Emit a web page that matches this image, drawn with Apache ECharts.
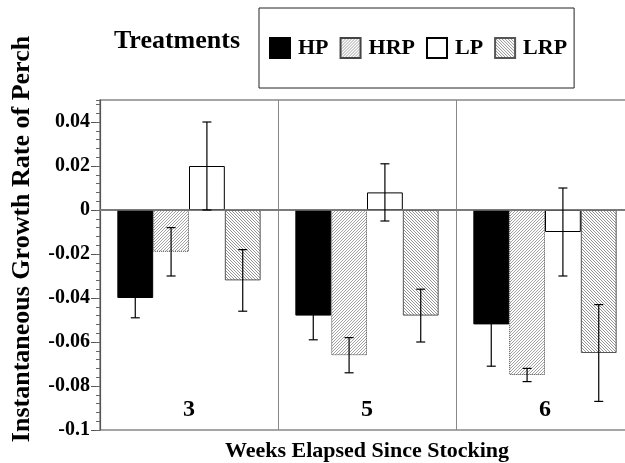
<!DOCTYPE html>
<html>
<head>
<meta charset="utf-8">
<script src="https://cdn.jsdelivr.net/npm/echarts@6/dist/echarts.min.js"></script>
<style>
html,body{margin:0;padding:0;background:#fff;}
#chart{width:625px;height:463px;}
</style>
</head>
<body>
<div id="chart"></div>
<script>
// ---- data ----
var categories = ['3', '5', '6'];
var treatments = ['HP', 'HRP', 'LP', 'LRP'];
var HP = [-0.040, -0.048, -0.052];
var HP_err = [0.009, 0.011, 0.019];
var HRP = [-0.019, -0.066, -0.075];
var HRP_err = [0.011, 0.008, 0.003];
var LP = [0.020, 0.008, -0.010];
var LP_err = [0.020, 0.013, 0.020];
var LRP = [-0.032, -0.048, -0.065];
var LRP_err = [0.014, 0.012, 0.022];
var yTicks = [-0.1, -0.08, -0.06, -0.04, -0.02, 0, 0.02, 0.04];

var FONT = '"Liberation Serif", "Times New Roman", serif';
var GAP = 0.195;

function hatch(dir, color, size, lw) {
  var c = document.createElement('canvas');
  c.width = size; c.height = size;
  var ctx = c.getContext('2d');
  ctx.fillStyle = '#fff';
  ctx.fillRect(0, 0, size, size);
  ctx.strokeStyle = color;
  ctx.lineWidth = lw;
  ctx.beginPath();
  for (var k = -1; k <= 1; k++) {
    if (dir === '/') {
      ctx.moveTo(k * size, size); ctx.lineTo(k * size + size, 0);
    } else {
      ctx.moveTo(k * size, 0); ctx.lineTo(k * size + size, size);
    }
  }
  ctx.stroke();
  return { image: c, repeat: 'repeat' };
}

var styles = [
  { color: '#000', borderColor: '#000', borderWidth: 1 },
  { color: hatch('/', '#8a8a8a', 3, 0.8), borderColor: '#444', borderWidth: 1, borderType: 'dotted' },
  { color: '#fff', borderColor: '#000', borderWidth: 1 },
  { color: hatch('\\', '#888', 3, 0.9), borderColor: '#555', borderWidth: 1 }
];
var values = [HP, HRP, LP, LRP];
var errs = [HP_err, HRP_err, LP_err, LRP_err];

var series = treatments.map(function (name, i) {
  var s = {
    name: name,
    type: 'bar',
    data: values[i],
    barGap: '0%',
    barCategoryGap: (GAP * 100) + '%',
    itemStyle: styles[i],
    emphasis: { disabled: true },
    z: 2
  };
  if (i === 0) {
    s.markLine = {
      silent: true, symbol: 'none', label: { show: false },
      lineStyle: { color: '#777', width: 1.5, type: 'solid' },
      data: [{ yAxis: 0 }]
    };
  }
  return s;
});

var errData = [];
treatments.forEach(function (name, i) {
  categories.forEach(function (c, j) {
    errData.push([j, i, values[i][j], errs[i][j]]);
  });
});

series.push({
  type: 'custom',
  data: errData,
  z: 10,
  silent: true,
  encode: { x: 0, y: 2 },
  renderItem: function (params, api) {
    var cat = api.value(0), bi = api.value(1), v = api.value(2), e = api.value(3);
    var band = api.size([1, 0])[0];
    var bw = band * (1 - GAP) / 4;
    var c = api.coord([cat, v]);
    var x = c[0] + (bi - 1.5) * bw;
    var yt = api.coord([cat, v + e])[1];
    var yb = api.coord([cat, v - e])[1];
    var cap = 4.5;
    var st = { stroke: '#000', lineWidth: 1.2 };
    return {
      type: 'group',
      children: [
        { type: 'line', shape: { x1: x, y1: yt, x2: x, y2: yb }, style: st },
        { type: 'line', shape: { x1: x - cap, y1: yt, x2: x + cap, y2: yt }, style: st },
        { type: 'line', shape: { x1: x - cap, y1: yb, x2: x + cap, y2: yb }, style: st }
      ]
    };
  }
});

var chart = echarts.init(document.getElementById('chart'), null, { renderer: 'canvas' });
chart.setOption({
  animation: false,
  backgroundColor: '#fff',
  grid: {
    left: 100, top: 100, width: 534, height: 330,
    containLabel: false,
    outerBoundsMode: 'none',
    show: true, borderColor: '#888', borderWidth: 1.5, backgroundColor: 'transparent'
  },
  legend: {
    data: treatments,
    left: 259, top: 8,
    orient: 'horizontal',
    itemWidth: 20, itemHeight: 20, itemGap: 11,
    padding: [29, 7, 29, 10],
    borderColor: '#222', borderWidth: 1,
    selectedMode: false,
    icon: 'rect',
    textStyle: { fontFamily: FONT, fontWeight: 'bold', fontSize: 22, color: '#000', padding: [0, 0, 0, 3] }
  },
  xAxis: {
    type: 'category',
    data: categories,
    position: 'bottom',
    axisLine: { show: true, lineStyle: { color: '#888', width: 2 } },
    axisTick: { show: false },
    splitLine: { show: true, lineStyle: { color: '#888', width: 1 } },
    axisLabel: {
      inside: true, margin: 8,
      fontFamily: FONT, fontWeight: 'bold', fontSize: 24, color: '#000'
    }
  },
  yAxis: [{
    type: 'value',
    min: -0.1, max: 0.05, interval: 0.02,
    axisLine: { show: true, lineStyle: { color: '#555', width: 1.2 } },
    axisTick: { show: true, inside: false, length: 9, lineStyle: { color: '#555' } },
    splitLine: { show: false },
    axisLabel: {
      showMaxLabel: false, margin: 10,
      fontFamily: FONT, fontWeight: 'bold', fontSize: 20, color: '#000',
      formatter: function (v) {
        var r = Math.round(v * 1000) / 1000;
        return yTicks.indexOf(r) >= 0 ? String(r) : '';
      }
    }
  }, {
    type: 'value',
    position: 'left',
    min: -0.1, max: 0.05, interval: 0.004,
    axisLine: { show: false },
    axisTick: { show: true, inside: false, length: 4, lineStyle: { color: '#666' } },
    splitLine: { show: false },
    axisLabel: { show: false }
  }],
  graphic: [
    {
      type: 'text', x: 22, y: 239, rotation: Math.PI / 2,
      style: {
        text: 'Instantaneous Growth Rate of Perch',
        font: 'bold 26px ' + FONT, fill: '#000',
        textAlign: 'center', textVerticalAlign: 'middle',
        align: 'center', verticalAlign: 'middle'
      }
    },
    {
      type: 'text', x: 367, y: 451,
      style: {
        text: 'Weeks Elapsed Since Stocking',
        font: 'bold 22px ' + FONT, fill: '#000',
        textAlign: 'center', textVerticalAlign: 'middle',
        align: 'center', verticalAlign: 'middle'
      }
    },
    {
      type: 'text', x: 177, y: 41,
      style: {
        text: 'Treatments',
        font: 'bold 26px ' + FONT, fill: '#000',
        textAlign: 'center', textVerticalAlign: 'middle',
        align: 'center', verticalAlign: 'middle'
      }
    }
  ],
  series: series
});
</script>
</body>
</html>
